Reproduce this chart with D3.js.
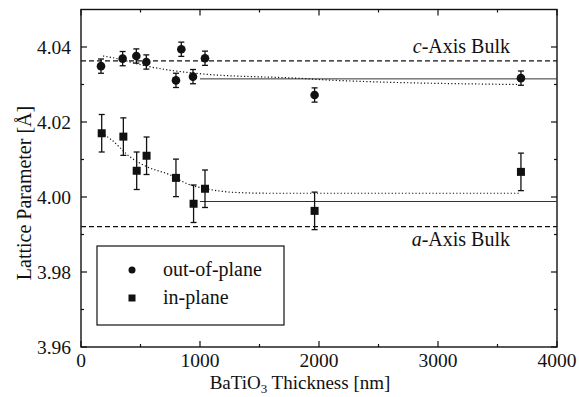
<!DOCTYPE html>
<html>
<head>
<meta charset="utf-8">
<script src="https://cdn.jsdelivr.net/npm/d3@7"></script>
<style>
  html, body { margin: 0; padding: 0; background: #fff; }
  svg { display: block; }
  text { font-family: "Liberation Serif", "Times New Roman", serif; fill: #111; }
</style>
</head>
<body>
<svg id="chart" width="579" height="397"></svg>
<script>
// Out-of-plane (c) lattice parameter vs film thickness
const outThickness = [168, 350, 465, 549, 798, 843, 941, 1042, 1963, 3697];
const outValue     = [4.0349, 4.0369, 4.0376, 4.0360, 4.0311, 4.0394, 4.0321, 4.0370, 4.0272, 4.0317];
const outError     = [0.0019, 0.0019, 0.0019, 0.0019, 0.0019, 0.0019, 0.0019, 0.0019, 0.0019, 0.0019];

// In-plane (a) lattice parameter vs film thickness
const inThickness = [174, 356, 468, 551, 798, 946, 1042, 1963, 3697];
const inValue     = [4.0170, 4.0161, 4.0070, 4.0110, 4.0051, 3.9982, 4.0022, 3.9963, 4.0067];
const inError     = [0.0050, 0.0050, 0.0050, 0.0050, 0.0050, 0.0050, 0.0050, 0.0050, 0.0050];

// Guide curves through each series
const outCurveX = [185, 258, 552, 1025, 1865, 2070, 3680];
const outCurveY = [4.0376, 4.0372, 4.0349, 4.0328, 4.0316, 4.0312, 4.0300];
const inCurveX  = [174, 258, 412, 552, 748, 888, 1084, 1308, 1588, 3680];
const inCurveY  = [4.0171, 4.0152, 4.0107, 4.0081, 4.0059, 4.0036, 4.0020, 4.0012, 4.0010, 4.0010];

// Thick-film averages (solid) and bulk references (dashed)
const thickAvgX  = [1000, 4000];
const outThickAvg = 4.0315;
const inThickAvg  = 3.9988;
const cBulk = 4.0363;
const aBulk = 3.9921;

const xTicks = [0, 1000, 2000, 3000, 4000];
const xMinor = [500, 1500, 2500, 3500];
const yTicks = [3.96, 3.98, 4.00, 4.02, 4.04];
const yMinor = [3.97, 3.99, 4.01, 4.03];

const svg = d3.select("#chart");
const plotL = 81, plotR = 557, plotT = 9.5, plotB = 347;

const x = d3.scaleLinear().domain([0, 4000]).range([plotL, plotR]);
const y = d3.scaleLinear().domain([3.96, 4.05]).range([plotB, plotT]);

const ink = "#111";

// Frame
svg.append("rect")
  .attr("x", plotL).attr("y", plotT)
  .attr("width", plotR - plotL).attr("height", plotB - plotT)
  .attr("fill", "none").attr("stroke", ink).attr("stroke-width", 1.4);

// Inward ticks on all four sides
const tickG = svg.append("g").attr("stroke", ink).attr("stroke-width", 1.2);
function hTicks(vals, len) {
  vals.forEach(v => {
    tickG.append("line").attr("x1", x(v)).attr("x2", x(v)).attr("y1", plotB).attr("y2", plotB - len);
    tickG.append("line").attr("x1", x(v)).attr("x2", x(v)).attr("y1", plotT).attr("y2", plotT + len);
  });
}
function vTicks(vals, len) {
  vals.forEach(v => {
    tickG.append("line").attr("x1", plotL).attr("x2", plotL + len).attr("y1", y(v)).attr("y2", y(v));
    tickG.append("line").attr("x1", plotR).attr("x2", plotR - len).attr("y1", y(v)).attr("y2", y(v));
  });
}
hTicks(xTicks, 6); hTicks(xMinor, 3);
vTicks(yTicks, 6); vTicks(yMinor, 3);

// Tick labels
svg.append("g").selectAll("text").data(xTicks).join("text")
  .attr("x", d => x(d)).attr("y", 367)
  .attr("text-anchor", "middle").attr("font-size", 19.5)
  .text(d => d3.format("d")(d));
svg.append("g").selectAll("text").data(yTicks).join("text")
  .attr("x", 71).attr("y", d => y(d) + 6.5)
  .attr("text-anchor", "end").attr("font-size", 19.5)
  .text(d => d3.format(".2f")(d));

// Axis titles
const xt = svg.append("text").attr("x", 300).attr("y", 389)
  .attr("text-anchor", "middle").attr("font-size", 19);
xt.append("tspan").text("BaTiO");
xt.append("tspan").attr("font-size", 13).attr("dy", 4).text("3");
xt.append("tspan").attr("dy", -4).text(" Thickness [nm]");

svg.append("text")
  .attr("transform", "translate(31,193) rotate(-90)")
  .attr("text-anchor", "middle").attr("font-size", 20)
  .text("Lattice Parameter [Å]");

// Bulk reference lines
[cBulk, aBulk].forEach(v => {
  svg.append("line")
    .attr("x1", plotL).attr("x2", plotR).attr("y1", y(v)).attr("y2", y(v))
    .attr("stroke", ink).attr("stroke-width", 1.2).attr("stroke-dasharray", "5,3");
});

const ct = svg.append("text").attr("x", 510).attr("y", 53)
  .attr("text-anchor", "end").attr("font-size", 20);
ct.append("tspan").attr("font-style", "italic").text("c");
ct.append("tspan").text("-Axis Bulk");
const at = svg.append("text").attr("x", 510).attr("y", 246)
  .attr("text-anchor", "end").attr("font-size", 20);
at.append("tspan").attr("font-style", "italic").text("a");
at.append("tspan").text("-Axis Bulk");

// Thick-film average lines
[outThickAvg, inThickAvg].forEach(v => {
  svg.append("line")
    .attr("x1", x(thickAvgX[0])).attr("x2", x(thickAvgX[1]))
    .attr("y1", y(v)).attr("y2", y(v))
    .attr("stroke", "#333").attr("stroke-width", 1);
});

// Dotted guide curves
const line = d3.line().curve(d3.curveMonotoneX).x(d => x(d[0])).y(d => y(d[1]));
[[outCurveX, outCurveY], [inCurveX, inCurveY]].forEach(([xs, ys]) => {
  svg.append("path")
    .attr("d", line(d3.zip(xs, ys)))
    .attr("fill", "none").attr("stroke", ink)
    .attr("stroke-width", 1.2).attr("stroke-dasharray", "1.2,2.2");
});

// Error bars
function errorBars(xs, vs, es) {
  const g = svg.append("g").attr("stroke", ink).attr("stroke-width", 1.3);
  xs.forEach((t, i) => {
    const cx = x(t), y0 = y(vs[i] - es[i]), y1 = y(vs[i] + es[i]);
    g.append("line").attr("x1", cx).attr("x2", cx).attr("y1", y0).attr("y2", y1);
    g.append("line").attr("x1", cx - 3).attr("x2", cx + 3).attr("y1", y0).attr("y2", y0);
    g.append("line").attr("x1", cx - 3).attr("x2", cx + 3).attr("y1", y1).attr("y2", y1);
  });
}
errorBars(outThickness, outValue, outError);
errorBars(inThickness, inValue, inError);

// Markers
svg.append("g").selectAll("circle").data(d3.zip(outThickness, outValue)).join("circle")
  .attr("cx", d => x(d[0])).attr("cy", d => y(d[1])).attr("r", 4.3).attr("fill", ink);
svg.append("g").selectAll("rect").data(d3.zip(inThickness, inValue)).join("rect")
  .attr("x", d => x(d[0]) - 4).attr("y", d => y(d[1]) - 4)
  .attr("width", 8).attr("height", 8).attr("fill", ink);

// Legend
const lg = svg.append("g");
lg.append("rect").attr("x", 97).attr("y", 246).attr("width", 187).attr("height", 79)
  .attr("fill", "#fff").attr("stroke", ink).attr("stroke-width", 1.2);
lg.append("circle").attr("cx", 132).attr("cy", 270).attr("r", 3.5).attr("fill", ink);
lg.append("rect").attr("x", 128.5).attr("y", 294.5).attr("width", 7).attr("height", 7).attr("fill", ink);
lg.append("text").attr("x", 163).attr("y", 276).attr("font-size", 20).text("out-of-plane");
lg.append("text").attr("x", 163).attr("y", 304).attr("font-size", 20).text("in-plane");
</script>
</body>
</html>
